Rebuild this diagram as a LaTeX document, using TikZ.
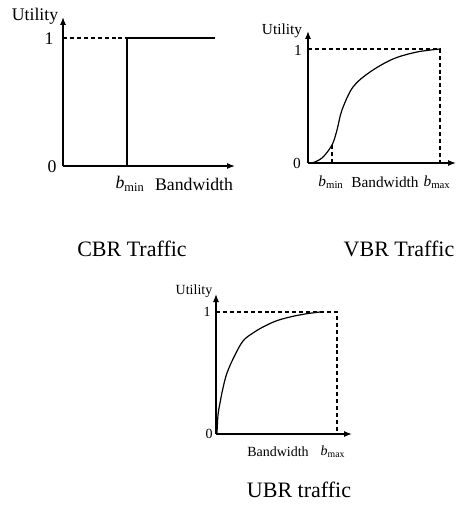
\documentclass[tikz,border=0pt]{standalone}
\usepackage{fontspec}
\setmainfont{Liberation Serif}
\usetikzlibrary{arrows.meta}
\begin{document}
\begin{tikzpicture}[x=0.75pt,y=-0.75pt,
  axis/.style={line width=0.9pt,-{Latex[length=6pt,width=4.5pt]}},
  dsh/.style={line width=0.8pt,dash pattern=on 3pt off 2.2pt},
  crv/.style={line width=0.9pt},
  labA/.style={inner sep=0pt,font=\fontsize{13.3}{15}\selectfont},
  labB/.style={inner sep=0pt,font=\fontsize{11.5}{13}\selectfont},
  labC/.style={inner sep=0pt,font=\fontsize{10.5}{12}\selectfont},
  captxt/.style={inner sep=0pt,font=\fontsize{16.5}{19}\selectfont}]
\useasboundingbox (0,0) rectangle (457,505);

% ---------- CBR ----------
\coordinate (o1) at (63,166);
\coordinate (y1) at (63,17);
\coordinate (x1) at (235,166);
\coordinate (t1) at (63,38);
\coordinate (m1) at (127,38);
\coordinate (e1) at (215,38);
\coordinate (mb1) at (127,166);
\draw[axis] (o1) -- (y1);
\draw[axis] (o1) -- (x1);
\draw[dsh] (t1) -- (m1);
\draw[crv] (mb1) -- (m1) -- (e1);
\node[labA] (u1) at (35,16) {Utility};
\node[labA] (one1) at (49,39) {1};
\node[labA] (zero1) at (52,167) {0};
\node[labA] (bmin1) at (130,184) {{\itshape b}\textsubscript{min}};
\node[labA] (bw1) at (194,184) {Bandwidth};
\node[captxt] (c1) at (132,249) {CBR Traffic};

% ---------- VBR ----------
\coordinate (o2) at (308,163);
\coordinate (y2) at (308,31);
\coordinate (x2) at (456,163);
\coordinate (t2) at (308,49);
\coordinate (r2) at (440,49);
\coordinate (rb2) at (440,163);
\coordinate (mb2) at (332,163);
\coordinate (mt2) at (332,145);
\draw[axis] (o2) -- (y2);
\draw[axis] (o2) -- (x2);
\draw[dsh] (t2) -- (r2) -- (rb2);
\draw[dsh] (mb2) -- (mt2);
\draw[crv] plot[smooth,tension=0.55] coordinates {(312,163) (322,158) (332,145) (337,130) (342,110) (353,87) (370,72) (393,59) (417,52) (440,49)};
\node[labB] (u2) at (282,31) {Utility};
\node[labB] (one2) at (298,50) {1};
\node[labB] (zero2) at (297,163) {0};
\node[labB] (bmin2) at (331,182) {{\itshape b}\textsubscript{min}};
\node[labB] (bw2) at (385,182) {Bandwidth};
\node[labB] (bmax2) at (437,182) {{\itshape b}\textsubscript{max}};
\node[captxt] (c2) at (399,249) {VBR Traffic};

% ---------- UBR ----------
\coordinate (o3) at (216,434);
\coordinate (y3) at (216,294);
\coordinate (x3) at (352,434);
\coordinate (t3) at (216,312);
\coordinate (r3) at (337,312);
\coordinate (rb3) at (337,434);
\draw[axis] (o3) -- (y3);
\draw[axis] (o3) -- (x3);
\draw[dsh] (t3) -- (r3) -- (rb3);
\draw[crv] plot[smooth,tension=0.6] coordinates {(217,433) (218,415) (220,403) (223,388) (227,373) (234,357) (243,341) (253,333) (263,327) (276,321) (290,317) (305,314) (320,312)};
\node[labC] (u3) at (194,291) {Utility};
\node[labC] (one3) at (207,312) {1};
\node[labC] (zero3) at (209,434) {0};
\node[labC] (bw3) at (278,452) {Bandwidth};
\node[labC] (bmax3) at (333,452) {{\itshape b}\textsubscript{max}};
\node[captxt] (c3) at (299,490) {UBR traffic};
\end{tikzpicture}
\end{document}
